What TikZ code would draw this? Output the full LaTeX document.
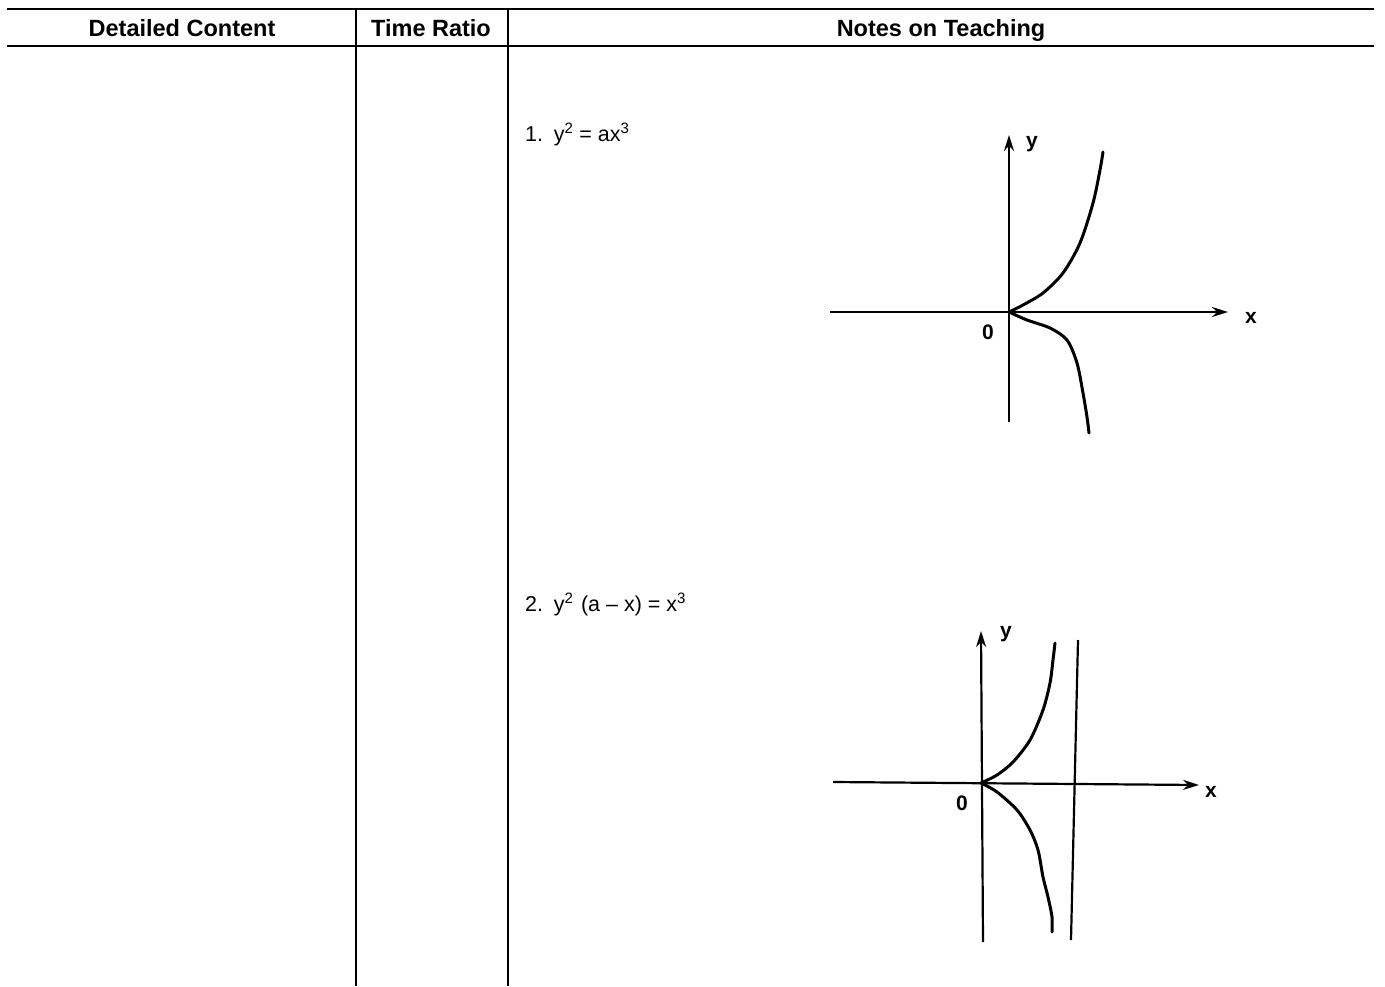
\documentclass[tikz,border=0pt]{standalone}
\usepackage{fontspec}
\setmainfont{Liberation Sans}
\usetikzlibrary{arrows.meta}

\begin{document}
\begin{tikzpicture}[x=1pt,y=-1pt,
  rule/.style={line width=2.4pt},
  sep/.style={line width=2pt},
  head/.style={font=\fontsize{23.5}{26}\selectfont\bfseries, anchor=base},
  body/.style={font=\fontsize{21.5}{26}\selectfont, anchor=base west, inner sep=0pt},
  axis/.style={line width=2.2pt, -{Stealth[length=16pt,width=10pt]}},
  curve/.style={line width=3pt, line cap=round},
  lbl/.style={font=\fontsize{21}{24}\selectfont\bfseries}]

\useasboundingbox (0,0) rectangle (1385,986);

% table rules
\draw[rule] (7,9) -- (1374,9);
\draw[rule] (7,46) -- (1374,46);
\foreach \x in {356,508}
  \draw[sep] (\x,9) -- (\x,986);

% header
\node[head] (hdetail) at (182,36) {Detailed Content};
\node[head] (hratio) at (431,36) {Time Ratio};
\node[head] (hnotes) at (941,36) {Notes on Teaching};

% the two equations
\node[body] (eqone) at (525,141) {1.\hspace{0.5em}y\textsuperscript{2} = ax\textsuperscript{3}};
\node[body] (eqtwo) at (525,611) {2.\hspace{0.5em}y\textsuperscript{2}\hspace{0.35em}(a -- x) = x\textsuperscript{3}};

% graph 1: y^2 = a x^3
\coordinate (oA) at (1009,312);
\draw[axis] (830,312) -- (1228,312);
\draw[axis] (1009,422) -- (1009,135);
\node[lbl] (xA) at (1251,318) {x};
\node[lbl] (yA) at (1032,144) {y};
\node[lbl] (zA) at (988,332) {0};
\draw[curve] plot[smooth] coordinates {(oA) (1023,305) (1043,293) (1063,273) (1080,243) (1093,203) (1100,170) (1103,152)};
\draw[curve] plot[smooth] coordinates {(oA) (1027,320) (1050,328) (1067,340) (1077,363) (1083,393) (1087,417) (1089,433)};

% graph 2: y^2 (a - x) = x^3
\coordinate (oB) at (981,783);
\draw[axis] (833,782) -- (1199,785);
\draw[axis] (983,942) -- (981,631);
\draw[line width=2.2pt] (1078,640) -- (1071,940);
\node[lbl] (xB) at (1211,792) {x};
\node[lbl] (yB) at (1006,634) {y};
\node[lbl] (zB) at (962,803) {0};
\draw[curve] plot[smooth] coordinates {(oB) (997,775) (1013,762) (1030,740) (1043,710) (1050,683) (1053,660) (1055,643)};
\draw[curve] plot[smooth] coordinates {(oB) (997,792) (1017,810) (1030,830) (1038,850) (1043,877) (1048,897) (1052,917) (1052,932)};

\end{tikzpicture}
\end{document}
